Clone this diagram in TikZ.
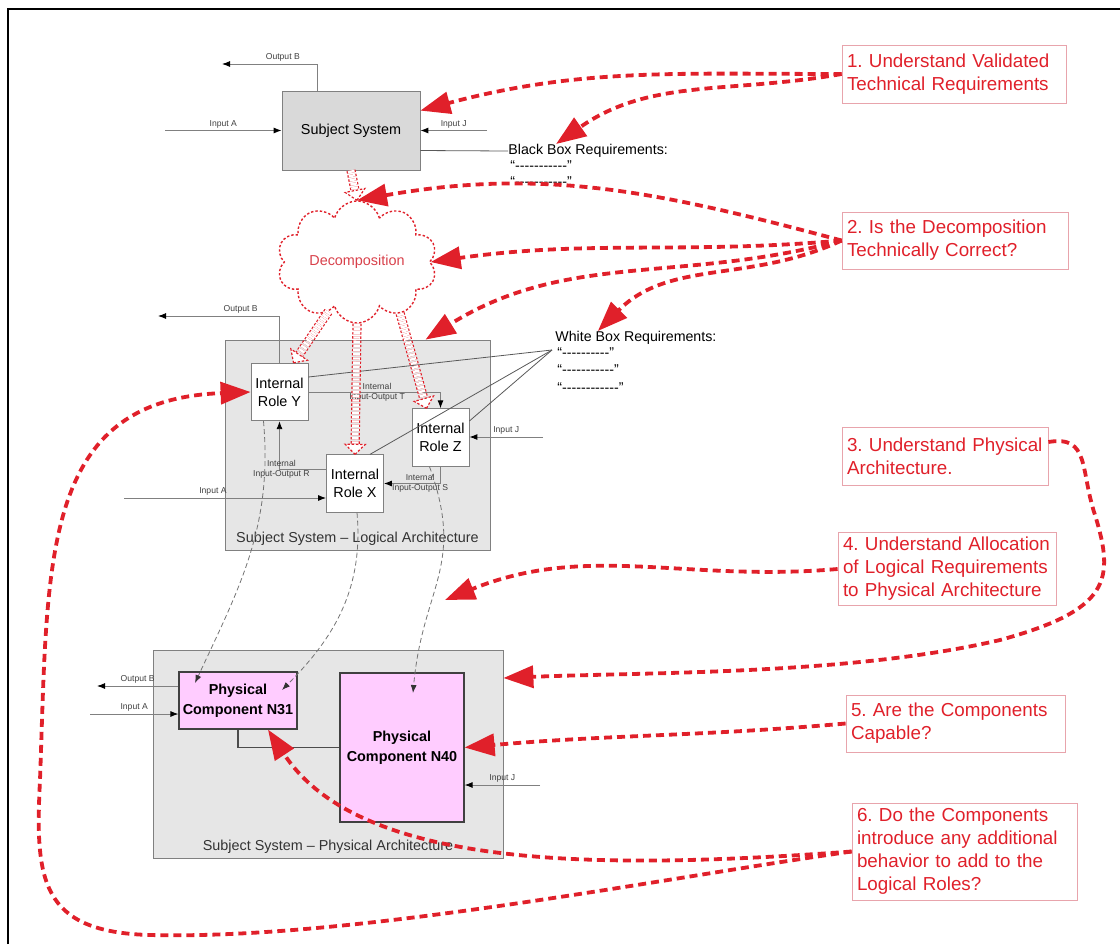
\documentclass[tikz,border=0pt]{standalone}
\usepackage{fontspec}
\setmainfont{Liberation Sans}
\usetikzlibrary{arrows.meta, positioning, shapes.symbols, decorations.markings}

\definecolor{sysgrey}{HTML}{D9D9D9}
\definecolor{archgrey}{HTML}{E6E6E6}
\definecolor{linegrey}{HTML}{808080}
\definecolor{comppink}{HTML}{FFCCFF}
\definecolor{notered}{HTML}{E0202A}
\definecolor{noteedge}{HTML}{E8A4AC}
\definecolor{decored}{HTML}{D8404A}

\newcommand{\quoteline}[1]{“\foreach \k in {1,...,#1}{-}”}
\newcommand{\notefont}{\fontsize{9.4}{11.5}\selectfont\frenchspacing\hyphenpenalty 10000\relax}

\begin{document}
\begin{tikzpicture}[x=0.5pt, y=-0.5pt]
	\tikzset{sysbox/.style={draw=linegrey, fill=sysgrey, inner sep=0pt, font=\fontsize{7.2}{9}\selectfont},
	archbox/.style={draw=linegrey, fill=archgrey, inner sep=0pt},
	rolebox/.style={draw=linegrey, fill=white, align=center, inner sep=0pt, minimum width=28.5pt, minimum height=28.75pt, font=\fontsize{7.2}{9}\selectfont},
	compbox/.style={draw=black!75, fill=comppink, align=center, inner sep=0pt, line width=0.6pt, font=\bfseries\fontsize{7.2}{10}\selectfont},
	archlbl/.style={font=\fontsize{7.2}{9}\selectfont, text=black!80, inner sep=1pt},
	req/.style={anchor=west, inner sep=0pt, font=\fontsize{7.1}{8.5}\selectfont},
	note/.style={draw=noteedge, text=notered, align=left, inner sep=2.5pt, font=\notefont},
	lbl/.style={font=\fontsize{4.3}{5}\selectfont, text=black!75, inner sep=1pt, align=center},
	cloudy/.style={cloud, cloud puffs=10, cloud ignores aspect, draw=notered, line width=0.7pt, dash pattern=on 1.2pt off 1pt, minimum width=80pt, minimum height=61pt, text=decored, font=\fontsize{7.2}{9}\selectfont},
	sig/.style={draw=linegrey, line width=0.45pt, -{Latex[length=4pt, width=3pt, color=black]}},
	link/.style={draw=black!65, line width=0.4pt},
	bus/.style={draw=black!70, line width=0.7pt},
	alloc/.style={draw=black!55, line width=0.4pt, dash pattern=on 2.5pt off 1.5pt, -{Latex[length=4pt, width=3pt, color=black!80]}},
	dots/.style={dash pattern=on 1.2pt off 0.9pt},
	hollow/.style={draw=notered, line width=0.6pt, double=white, double distance=3.4pt, dots, shorten >=5pt,
		postaction={decorate}, decoration={markings, mark=at position 1 with
			{\draw[notered, line width=0.6pt, fill=white, dots] (0,0) -- (-5pt,5pt) -- (-5pt,-5pt) -- cycle;}}},
	qarrow/.style={draw=notered, line width=1.9pt, dash pattern=on 4pt off 2.5pt, -{Triangle[length=15pt, width=11pt]}},
	frame/.style={draw=black, line width=1.2pt}}

	\useasboundingbox (0,0) rectangle (1120,944);
	\draw[frame] (8,944) -- (8,9) -- (1120,9);

	% black box view
	\node[sysbox, minimum width=69pt, minimum height=39.5pt] (ss) at (351,130.5) {Subject System};
	\coordinate (ssB) at (222,64);
	\coordinate (ssA) at (165,130.5);
	\coordinate (ssJ) at (487,130.5);
	\draw[sig] ([xshift=-17pt]ss.north) |- node[lbl, above, pos=0.68] {Output B} (ssB);
	\draw[sig] (ssA) -- node[lbl, above] {Input A} (ss.west);
	\draw[sig] (ssJ) -- node[lbl, above] {Input J} (ss.east);

	\node[req] (bbreq) at (508,151) {Black Box Requirements:};
	\foreach \i/\y in {1/166, 2/182}
		\node[req] (bb-\i) at (510,\y) {\quoteline{11}};
	\draw[link] ([yshift=-10pt]ss.east) -- (bbreq.west);

	\node[cloudy] (cloud) at (357,262) {Decomposition};

	% logical architecture
	\node[archbox, minimum width=132.5pt, minimum height=105pt] (la) at (357.5,445) {};
	\node[archlbl, above=1.5pt of la.south] (la-lbl) {Subject System – Logical Architecture};
	\foreach \name/\x/\y/\role in {ry/279.5/392/Y, rx/355/483.5/X, rz/440.5/437.5/Z}
		\node[rolebox] (\name) at (\x,\y) {Internal\\Role \role};

	\coordinate (laB) at (158,316);
	\coordinate (laA) at (124,498);
	\coordinate (laJ) at (543,437);
	\draw[sig] (ry.north) |- node[lbl, above, pos=0.66] {Output B} (laB);
	\draw[sig] (laA) -- node[lbl, above, pos=0.44] {Input A} (laA -| rx.west);
	\draw[sig] (laJ) -- node[lbl, above] {Input J} (laJ -| rz.east);
	\draw[sig] (ry.east) -| node[lbl, pos=0.26] {Internal\\Input-Output T} (rz.north);
	\draw[sig] ([yshift=7.25pt]rx.west) -| node[lbl, pos=0.48] {Internal\\Input-Output R} (ry.south);
	\draw[sig] (rz.south) |- node[lbl, pos=0.68] {Internal\\Input-Output S} (rx.east);

	\node[req] (wbreq) at (555,338) {White Box Requirements:};
	\foreach \i/\y/\n in {1/353/10, 2/370/11, 3/388/12}
		\node[req] (wb-\i) at (557,\y) {\quoteline{\n}};
	\coordinate (wb) at (552,350);
	\draw[link] ([yshift=7.5pt]ry.east) -- (wb);
	\draw[link] ([xshift=7.5pt]rx.north) -- (wb);
	\draw[link] ([yshift=8.25pt]rz.east) -- (wb);

	% physical architecture
	\node[archbox, minimum width=175pt, minimum height=104pt] (pa) at (328,754) {};
	\node[archlbl, above=1.5pt of pa.south] (pa-lbl) {Subject System – Physical Architecture};
	\node[compbox, minimum width=59pt, minimum height=28.5pt] (n31) at (238,700.5) {Physical\\Component N31};
	\node[compbox, minimum width=62pt, minimum height=74.5pt] (n40) at (402,747.5) {Physical\\Component N40};

	\coordinate (paB) at (97,686);
	\coordinate (paA) at (90,714);
	\coordinate (paJ) at (540,785);
	\draw[sig] (paB -| n31.west) -- node[lbl, above] {Output B} (paB);
	\draw[sig] (paA) -- node[lbl, above] {Input A} (paA -| n31.west);
	\draw[sig] (paJ) -- node[lbl, above] {Input J} (paJ -| n40.east);
	\draw[bus] (n31.south) |- (n40.west);

	% allocation of roles to components
	\draw[alloc] ([xshift=-8pt]ry.south) to[out=-85, in=65] ([shift={(-21.5pt,8.75pt)}]n31.center);
	\draw[alloc] ([xshift=1pt]rx.south) to[out=-85, in=45] ([shift={(22pt,5.25pt)}]n31.center);
	\draw[alloc] ([xshift=-5.5pt]rz.south) to[out=-70, in=85, looseness=1.2] ([shift={(5.5pt,27.25pt)}]n40.center);

	% decomposition
	\draw[hollow] (ss.south) -- (cloud.north);
	\draw[hollow] (cloud.-120) -- ([xshift=7pt]ry.north);
	\draw[hollow] (cloud.south) -- (rx.north);
	\draw[hollow] (cloud.-50) -- ([xshift=-7pt]rz.north);

	% review questions
	\foreach \name/\x/\y/\w/\h/\txt in {
		n1/954/74/107pt/29pt/{1. Understand Validated\\Technical Requirements},
		n2/955/240.5/108pt/28.5pt/{2. Is the Decomposition\\Technically Correct?},
		n3/945/456/98pt/29pt/{3. Understand Physical\\Architecture.},
		n4/947/569/104pt/36pt/{4. Understand Allocation\\of Logical Requirements\\to Physical Architecture},
		n5/955.5/723.5/104.5pt/28.5pt/{5. Are the Components\\Capable?},
		n6/964.5/851.5/107.5pt/48.5pt/{6. Do the Components\\introduce any additional\\behavior to add to the\\Logical Roles?}}
		\node[note, text width=\w, minimum height=\h] (\name) at (\x,\y) {\txt};

	\coordinate (q4) at (445,600);
	\draw[qarrow] (n1.west) to[out=180, in=15] (ss.16);
	\draw[qarrow] (n1.west) to[out=190, in=35] ([xshift=-16pt]bbreq.north);
	\draw[qarrow] (n2.west) to[out=165, in=10] (cloud.north);
	\draw[qarrow] (n2.west) to[out=185, in=8] (cloud.east);
	\draw[qarrow] (n2.west) to[out=195, in=32] ([xshift=34pt]la.north);
	\draw[qarrow] (n2.west) to[out=205, in=45] ([xshift=-19pt]wbreq.north);
	\draw[qarrow] ([yshift=7pt]n3.east) .. controls (1090,435) and (1080,470) .. (1095,515)
		.. controls (1115,580) and (1110,610) .. (1000,640)
		.. controls (850,675) and (650,672) .. ([yshift=38pt]pa.east);
	\draw[qarrow] (n4.west) to[out=185, in=22] (q4);
	\draw[qarrow] (n5.west) to[out=185, in=5] (n40.east);
	\draw[qarrow] (n6.west) .. controls (600,870) and (360,870) .. ([xshift=15pt]n31.south);
	\draw[qarrow] (n6.west) .. controls (650,880) and (350,940) .. (150,935)
		.. controls (40,932) and (35,880) .. (40,780)
		.. controls (48,560) and (40,400) .. (ry.west);
\end{tikzpicture}
\end{document}
